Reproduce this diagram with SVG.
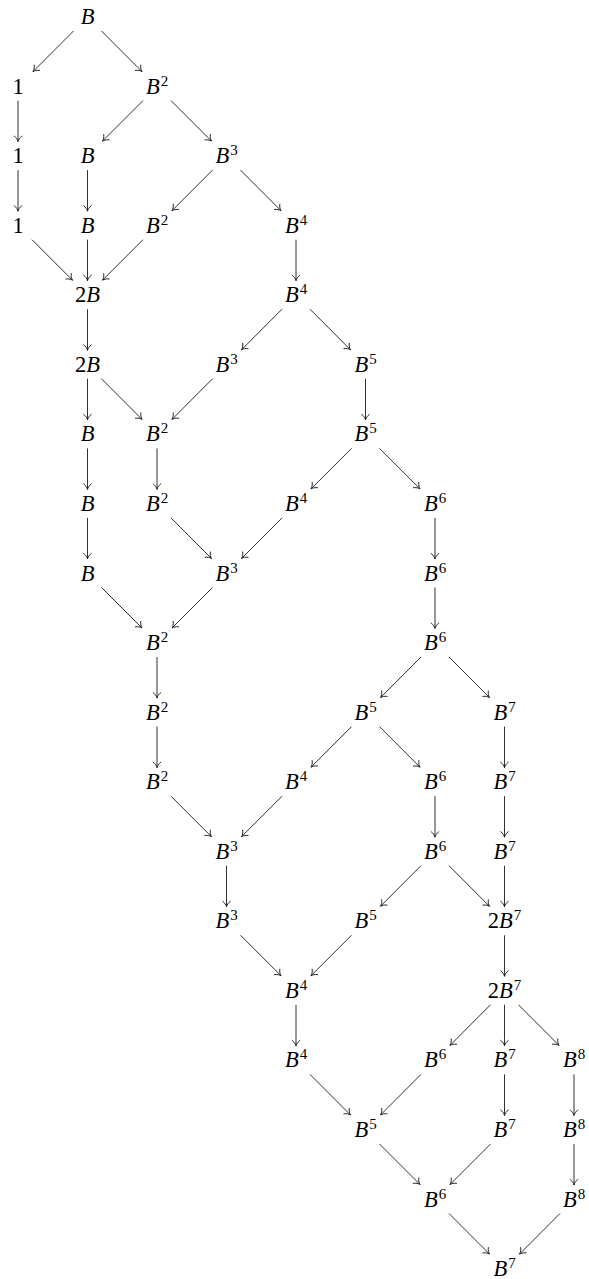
<svg xmlns="http://www.w3.org/2000/svg" width="589" height="1279" viewBox="0 0 589 1279">
<style>
.t{font-family:"Liberation Serif","DejaVu Serif",serif;font-size:22.5px;fill:#000;text-anchor:middle}
.i{font-style:italic}
.s{font-size:15px;font-style:normal}
.e line{stroke:#1a1a1a;stroke-width:0.9;fill:none;marker-end:url(#ah)}
</style>
<defs>
<marker id="ah" markerUnits="userSpaceOnUse" markerWidth="12" markerHeight="12" viewBox="-7 -6 8 12" refX="0" refY="0" orient="auto">
<path d="M-5.5,-3.8 C-4,-1.6 -1.6,-0.4 0,0 C-1.6,0.4 -4,1.6 -5.5,3.8" fill="none" stroke="#1a1a1a" stroke-width="0.9" stroke-linecap="round"/>
</marker>
</defs>
<rect width="589" height="1279" fill="#fff"/>
<g id="connectors" class="e">
<line x1="73.5" y1="31" x2="33" y2="71.6"/>
<line x1="101.5" y1="31" x2="142" y2="71.6"/>
<line x1="18" y1="100.6" x2="18" y2="141.6"/>
<line x1="143" y1="100.6" x2="102.5" y2="141.1"/>
<line x1="171" y1="100.6" x2="211.5" y2="141.1"/>
<line x1="18" y1="170.1" x2="18" y2="211.2"/>
<line x1="87.5" y1="170.1" x2="87.5" y2="211.2"/>
<line x1="212.5" y1="170.1" x2="172" y2="210.7"/>
<line x1="240.5" y1="170.1" x2="281" y2="210.7"/>
<line x1="32" y1="239.7" x2="72.5" y2="280.2"/>
<line x1="87.5" y1="239.7" x2="87.5" y2="280.7"/>
<line x1="143" y1="239.7" x2="102.5" y2="280.2"/>
<line x1="296" y1="239.7" x2="296" y2="280.7"/>
<line x1="87.5" y1="309.2" x2="87.5" y2="350.3"/>
<line x1="282" y1="309.2" x2="241.5" y2="349.8"/>
<line x1="310" y1="309.2" x2="350.5" y2="349.8"/>
<line x1="87.5" y1="378.8" x2="87.5" y2="419.9"/>
<line x1="101.5" y1="378.8" x2="142" y2="419.4"/>
<line x1="212.5" y1="378.8" x2="172" y2="419.4"/>
<line x1="365.5" y1="378.8" x2="365.5" y2="419.9"/>
<line x1="87.5" y1="448.4" x2="87.5" y2="489.4"/>
<line x1="157" y1="448.4" x2="157" y2="489.4"/>
<line x1="351.5" y1="448.4" x2="311" y2="488.9"/>
<line x1="379.5" y1="448.4" x2="420" y2="488.9"/>
<line x1="87.5" y1="517.9" x2="87.5" y2="559"/>
<line x1="171" y1="517.9" x2="211.5" y2="558.5"/>
<line x1="282" y1="517.9" x2="241.5" y2="558.5"/>
<line x1="435" y1="517.9" x2="435" y2="559"/>
<line x1="101.5" y1="587.5" x2="142" y2="628"/>
<line x1="212.5" y1="587.5" x2="172" y2="628"/>
<line x1="435" y1="587.5" x2="435" y2="628.5"/>
<line x1="157" y1="657" x2="157" y2="698.1"/>
<line x1="421" y1="657" x2="380.5" y2="697.6"/>
<line x1="449" y1="657" x2="489.5" y2="697.6"/>
<line x1="157" y1="726.6" x2="157" y2="767.7"/>
<line x1="351.5" y1="726.6" x2="311" y2="767.2"/>
<line x1="379.5" y1="726.6" x2="420" y2="767.2"/>
<line x1="504.5" y1="726.6" x2="504.5" y2="767.7"/>
<line x1="171" y1="796.2" x2="211.5" y2="836.7"/>
<line x1="282" y1="796.2" x2="241.5" y2="836.7"/>
<line x1="435" y1="796.2" x2="435" y2="837.2"/>
<line x1="504.5" y1="796.2" x2="504.5" y2="837.2"/>
<line x1="226.5" y1="865.7" x2="226.5" y2="906.8"/>
<line x1="421" y1="865.7" x2="380.5" y2="906.3"/>
<line x1="449" y1="865.7" x2="489.5" y2="906.3"/>
<line x1="504.5" y1="865.7" x2="504.5" y2="906.8"/>
<line x1="240.5" y1="935.3" x2="281" y2="975.8"/>
<line x1="351.5" y1="935.3" x2="311" y2="975.8"/>
<line x1="504.5" y1="935.3" x2="504.5" y2="976.3"/>
<line x1="296" y1="1004.8" x2="296" y2="1045.9"/>
<line x1="490.5" y1="1004.8" x2="450" y2="1045.4"/>
<line x1="504.5" y1="1004.8" x2="504.5" y2="1045.9"/>
<line x1="518.5" y1="1004.8" x2="559" y2="1045.4"/>
<line x1="310" y1="1074.4" x2="350.5" y2="1115"/>
<line x1="421" y1="1074.4" x2="380.5" y2="1115"/>
<line x1="504.5" y1="1074.4" x2="504.5" y2="1115.5"/>
<line x1="574" y1="1074.4" x2="574" y2="1115.5"/>
<line x1="379.5" y1="1144" x2="420" y2="1184.5"/>
<line x1="490.5" y1="1144" x2="450" y2="1184.5"/>
<line x1="574" y1="1144" x2="574" y2="1185"/>
<line x1="449" y1="1213.5" x2="489.5" y2="1254.1"/>
<line x1="560" y1="1213.5" x2="519.5" y2="1254.1"/>
</g>
<g id="n0_1"><text class="t" x="87.5" y="24"><tspan class="i">B</tspan></text></g>
<g id="n1_0"><text class="t" x="18" y="93.6">1</text></g>
<g id="n1_2"><text class="t" x="157" y="93.6"><tspan class="i">B</tspan><tspan class="s" dx="1" dy="-8">2</tspan></text></g>
<g id="n2_0"><text class="t" x="18" y="163.1">1</text></g>
<g id="n2_1"><text class="t" x="87.5" y="163.1"><tspan class="i">B</tspan></text></g>
<g id="n2_3"><text class="t" x="226.5" y="163.1"><tspan class="i">B</tspan><tspan class="s" dx="1" dy="-8">3</tspan></text></g>
<g id="n3_0"><text class="t" x="18" y="232.7">1</text></g>
<g id="n3_1"><text class="t" x="87.5" y="232.7"><tspan class="i">B</tspan></text></g>
<g id="n3_2"><text class="t" x="157" y="232.7"><tspan class="i">B</tspan><tspan class="s" dx="1" dy="-8">2</tspan></text></g>
<g id="n3_4"><text class="t" x="296" y="232.7"><tspan class="i">B</tspan><tspan class="s" dx="1" dy="-8">4</tspan></text></g>
<g id="n4_1"><text class="t" x="87.5" y="302.2">2<tspan class="i">B</tspan></text></g>
<g id="n4_4"><text class="t" x="296" y="302.2"><tspan class="i">B</tspan><tspan class="s" dx="1" dy="-8">4</tspan></text></g>
<g id="n5_1"><text class="t" x="87.5" y="371.8">2<tspan class="i">B</tspan></text></g>
<g id="n5_3"><text class="t" x="226.5" y="371.8"><tspan class="i">B</tspan><tspan class="s" dx="1" dy="-8">3</tspan></text></g>
<g id="n5_5"><text class="t" x="365.5" y="371.8"><tspan class="i">B</tspan><tspan class="s" dx="1" dy="-8">5</tspan></text></g>
<g id="n6_1"><text class="t" x="87.5" y="441.4"><tspan class="i">B</tspan></text></g>
<g id="n6_2"><text class="t" x="157" y="441.4"><tspan class="i">B</tspan><tspan class="s" dx="1" dy="-8">2</tspan></text></g>
<g id="n6_5"><text class="t" x="365.5" y="441.4"><tspan class="i">B</tspan><tspan class="s" dx="1" dy="-8">5</tspan></text></g>
<g id="n7_1"><text class="t" x="87.5" y="510.9"><tspan class="i">B</tspan></text></g>
<g id="n7_2"><text class="t" x="157" y="510.9"><tspan class="i">B</tspan><tspan class="s" dx="1" dy="-8">2</tspan></text></g>
<g id="n7_4"><text class="t" x="296" y="510.9"><tspan class="i">B</tspan><tspan class="s" dx="1" dy="-8">4</tspan></text></g>
<g id="n7_6"><text class="t" x="435" y="510.9"><tspan class="i">B</tspan><tspan class="s" dx="1" dy="-8">6</tspan></text></g>
<g id="n8_1"><text class="t" x="87.5" y="580.5"><tspan class="i">B</tspan></text></g>
<g id="n8_3"><text class="t" x="226.5" y="580.5"><tspan class="i">B</tspan><tspan class="s" dx="1" dy="-8">3</tspan></text></g>
<g id="n8_6"><text class="t" x="435" y="580.5"><tspan class="i">B</tspan><tspan class="s" dx="1" dy="-8">6</tspan></text></g>
<g id="n9_2"><text class="t" x="157" y="650"><tspan class="i">B</tspan><tspan class="s" dx="1" dy="-8">2</tspan></text></g>
<g id="n9_6"><text class="t" x="435" y="650"><tspan class="i">B</tspan><tspan class="s" dx="1" dy="-8">6</tspan></text></g>
<g id="n10_2"><text class="t" x="157" y="719.6"><tspan class="i">B</tspan><tspan class="s" dx="1" dy="-8">2</tspan></text></g>
<g id="n10_5"><text class="t" x="365.5" y="719.6"><tspan class="i">B</tspan><tspan class="s" dx="1" dy="-8">5</tspan></text></g>
<g id="n10_7"><text class="t" x="504.5" y="719.6"><tspan class="i">B</tspan><tspan class="s" dx="1" dy="-8">7</tspan></text></g>
<g id="n11_2"><text class="t" x="157" y="789.2"><tspan class="i">B</tspan><tspan class="s" dx="1" dy="-8">2</tspan></text></g>
<g id="n11_4"><text class="t" x="296" y="789.2"><tspan class="i">B</tspan><tspan class="s" dx="1" dy="-8">4</tspan></text></g>
<g id="n11_6"><text class="t" x="435" y="789.2"><tspan class="i">B</tspan><tspan class="s" dx="1" dy="-8">6</tspan></text></g>
<g id="n11_7"><text class="t" x="504.5" y="789.2"><tspan class="i">B</tspan><tspan class="s" dx="1" dy="-8">7</tspan></text></g>
<g id="n12_3"><text class="t" x="226.5" y="858.7"><tspan class="i">B</tspan><tspan class="s" dx="1" dy="-8">3</tspan></text></g>
<g id="n12_6"><text class="t" x="435" y="858.7"><tspan class="i">B</tspan><tspan class="s" dx="1" dy="-8">6</tspan></text></g>
<g id="n12_7"><text class="t" x="504.5" y="858.7"><tspan class="i">B</tspan><tspan class="s" dx="1" dy="-8">7</tspan></text></g>
<g id="n13_3"><text class="t" x="226.5" y="928.3"><tspan class="i">B</tspan><tspan class="s" dx="1" dy="-8">3</tspan></text></g>
<g id="n13_5"><text class="t" x="365.5" y="928.3"><tspan class="i">B</tspan><tspan class="s" dx="1" dy="-8">5</tspan></text></g>
<g id="n13_7"><text class="t" x="504.5" y="928.3">2<tspan class="i">B</tspan><tspan class="s" dx="1" dy="-8">7</tspan></text></g>
<g id="n14_4"><text class="t" x="296" y="997.8"><tspan class="i">B</tspan><tspan class="s" dx="1" dy="-8">4</tspan></text></g>
<g id="n14_7"><text class="t" x="504.5" y="997.8">2<tspan class="i">B</tspan><tspan class="s" dx="1" dy="-8">7</tspan></text></g>
<g id="n15_4"><text class="t" x="296" y="1067.4"><tspan class="i">B</tspan><tspan class="s" dx="1" dy="-8">4</tspan></text></g>
<g id="n15_6"><text class="t" x="435" y="1067.4"><tspan class="i">B</tspan><tspan class="s" dx="1" dy="-8">6</tspan></text></g>
<g id="n15_7"><text class="t" x="504.5" y="1067.4"><tspan class="i">B</tspan><tspan class="s" dx="1" dy="-8">7</tspan></text></g>
<g id="n15_8"><text class="t" x="574" y="1067.4"><tspan class="i">B</tspan><tspan class="s" dx="1" dy="-8">8</tspan></text></g>
<g id="n16_5"><text class="t" x="365.5" y="1137"><tspan class="i">B</tspan><tspan class="s" dx="1" dy="-8">5</tspan></text></g>
<g id="n16_7"><text class="t" x="504.5" y="1137"><tspan class="i">B</tspan><tspan class="s" dx="1" dy="-8">7</tspan></text></g>
<g id="n16_8"><text class="t" x="574" y="1137"><tspan class="i">B</tspan><tspan class="s" dx="1" dy="-8">8</tspan></text></g>
<g id="n17_6"><text class="t" x="435" y="1206.5"><tspan class="i">B</tspan><tspan class="s" dx="1" dy="-8">6</tspan></text></g>
<g id="n17_8"><text class="t" x="574" y="1206.5"><tspan class="i">B</tspan><tspan class="s" dx="1" dy="-8">8</tspan></text></g>
<g id="n18_7"><text class="t" x="504.5" y="1276.1"><tspan class="i">B</tspan><tspan class="s" dx="1" dy="-8">7</tspan></text></g>
</svg>
